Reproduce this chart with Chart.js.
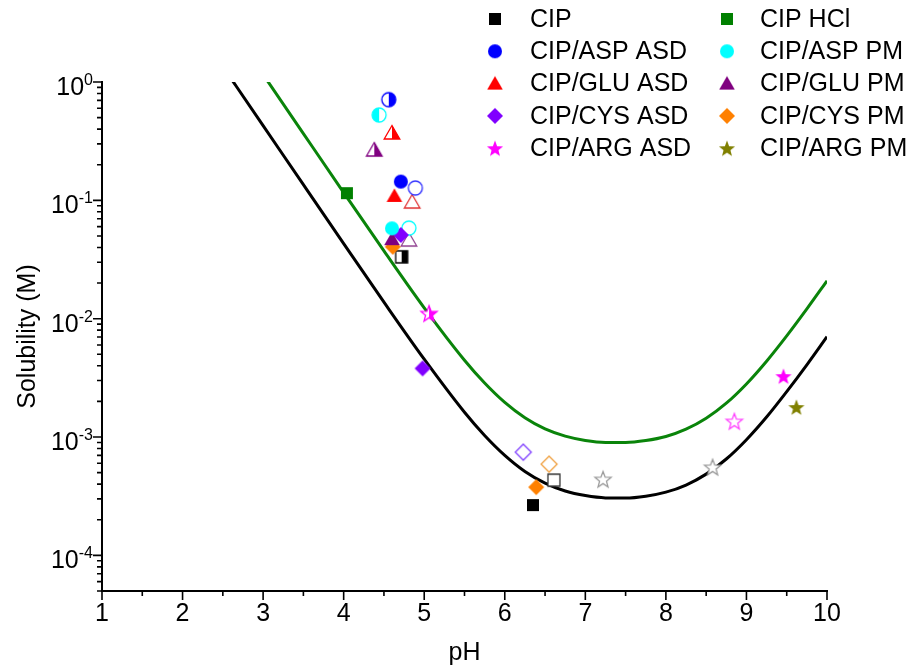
<!DOCTYPE html>
<html>
<head>
<meta charset="utf-8">
<script src="https://cdn.jsdelivr.net/npm/chart.js@4/dist/chart.umd.min.js"></script>
<style>
  html, body { margin: 0; padding: 0; background: #fff; }
  #wrap { width: 914px; height: 668px; }
</style>
</head>
<body>
<div id="wrap"><canvas id="c" width="914" height="668"></canvas></div>
<script>
// ---- model solubility curves (free base and HCl salt) ----
const curvePH     = [2.5, 3, 3.5, 4, 4.5, 5, 5.5, 5.75, 6, 6.25, 6.5, 6.75, 7, 7.25, 7.5, 7.75, 8, 8.25, 8.5, 8.75, 9, 9.25, 9.5, 9.75, 10];
const cipCurve    = [1.35, 0.428, 0.1356, 0.0431, 0.0138, 0.00455, 0.00162, 1.031e-3, 7.0e-4, 5.12e-4, 4.08e-4, 3.50e-4, 3.2e-4, 3.06e-4, 3.05e-4, 3.16e-4, 3.42e-4, 3.93e-4, 4.86e-4, 6.52e-4, 9.5e-4, 1.476e-3, 2.42e-3, 4.08e-3, 7.05e-3];
const cipHclCurve = [3.66, 1.157, 0.3665, 0.1164, 0.0374, 0.01236, 0.00446, 2.858e-3, 0.00196, 1.454e-3, 0.00117, 1.017e-3, 9.36e-4, 9.01e-4, 9.0e-4, 9.34e-4, 1.01e-3, 1.164e-3, 1.44e-3, 1.932e-3, 2.81e-3, 4.375e-3, 7.16e-3, 0.0121, 0.0209];

// ---- axis ticks ----
const xTicks   = [1, 2, 3, 4, 5, 6, 7, 8, 9, 10];
const yDecades = [1, 0.1, 0.01, 0.001, 0.0001];
const yExpText = ['0', '-1', '-2', '-3', '-4'];

// ---- measured solubilities (filled markers) ----
const cipPH     = [6.35],        cipSol     = [2.66e-4];
const cipHclPH  = [4.04],        cipHclSol  = [0.115];
const aspAsdPH  = [4.71],        aspAsdSol  = [0.144];
const aspPmPH   = [4.60],        aspPmSol   = [0.058];
const gluAsdPH  = [4.63],        gluAsdSol  = [0.109];
const gluPmPH   = [4.60],        gluPmSol   = [0.047];
const cysAsdPH  = [4.98, 4.71],  cysAsdSol  = [3.8e-3, 0.051];
const cysPmPH   = [6.39, 4.61],  cysPmSol   = [3.77e-4, 0.0405];
const argAsdPH  = [9.46],        argAsdSol  = [3.27e-3];
const argPmPH   = [9.62],        argPmSol   = [1.79e-3];

// ---- open markers ----
const cipOpenPH    = [6.61],       cipOpenSol    = [4.32e-4];
const aspAsdOpenPH = [4.89],       aspAsdOpenSol = [0.127];
const aspPmOpenPH  = [4.81],       aspPmOpenSol  = [0.0583];
const gluAsdOpenPH = [4.85],       gluAsdOpenSol = [0.0968];
const gluPmOpenPH  = [4.81],       gluPmOpenSol  = [0.0462];
const cysAsdOpenPH = [6.23],       cysAsdOpenSol = [7.45e-4];
const cysPmOpenPH  = [6.55],       cysPmOpenSol  = [5.9e-4];
const argAsdOpenPH = [8.85],       argAsdOpenSol = [1.36e-3];
const argGrayPH    = [7.22, 8.58], argGraySol    = [4.4e-4, 5.57e-4];

// ---- half-filled markers ----
const cipHalfPH    = [4.72], cipHalfSol    = [0.0333];
const aspAsdHalfPH = [4.56], aspAsdHalfSol = [0.709];
const aspPmHalfPH  = [4.44], aspPmHalfSol  = [0.526];
const gluAsdHalfPH = [4.60], gluAsdHalfSol = [0.371];
const gluPmHalfPH  = [4.38], gluPmHalfSol  = [0.266];
const argAsdHalfPH = [5.06], argAsdHalfSol = [0.0111];

const FONT = '"Liberation Sans", Arial, Helvetica, sans-serif';

const pts = (xs, ys) => xs.map((x, i) => ({ x, y: ys[i] }));

// Draw a marker glyph onto a small canvas used as a pointStyle
function marker(shape, color, fill) {
  const S = 24, c = S / 2;
  const cv = document.createElement('canvas');
  cv.width = S; cv.height = S;
  const g = cv.getContext('2d');
  g.translate(c, c);
  const path = () => {
    g.beginPath();
    if (shape === 'square') g.rect(-6, -6, 12, 12);
    else if (shape === 'circle') g.arc(0, 0, 7, 0, Math.PI * 2);
    else if (shape === 'triangle') { g.moveTo(0, -7.5); g.lineTo(7.8, 6); g.lineTo(-7.8, 6); }
    else if (shape === 'diamond') { g.moveTo(0, -8); g.lineTo(8, 0); g.lineTo(0, 8); g.lineTo(-8, 0); }
    else if (shape === 'star') {
      for (let k = 0; k < 10; k++) {
        const r = k % 2 ? 3.6 : 8.5;
        const a = -Math.PI / 2 + k * Math.PI / 5;
        const px = r * Math.cos(a), py = r * Math.sin(a) + 0.8;
        k ? g.lineTo(px, py) : g.moveTo(px, py);
      }
    }
    g.closePath();
  };
  if (fill === 'full') {
    path(); g.fillStyle = color; g.fill();
  } else {
    path(); g.fillStyle = '#fff'; g.fill();
    if (fill === 'right' || fill === 'left') {
      g.save();
      g.beginPath();
      if (fill === 'right') g.rect(0, -c, c, S); else g.rect(-c, -c, c, S);
      g.clip();
      path(); g.fillStyle = color; g.fill();
      g.restore();
    }
    path(); g.strokeStyle = color; g.lineWidth = 1.3; g.stroke();
  }
  return cv;
}

function series(label, xs, ys, shape, color, fill, inLegend) {
  return {
    label,
    inLegend,
    data: pts(xs, ys),
    pointStyle: marker(shape, color, fill),
    pointRadius: 8,
    pointHoverRadius: 8,
    showLine: false,
    order: 0
  };
}

const datasets = [
  // legend entries, in legend order (left column, right column)
  series('CIP',          cipPH,    cipSol,    'square',   '#000000', 'full', true),
  series('CIP HCl',      cipHclPH, cipHclSol, 'square',   '#008000', 'full', true),
  series('CIP/ASP ASD',  aspAsdPH, aspAsdSol, 'circle',   '#0000ff', 'full', true),
  series('CIP/ASP PM',   aspPmPH,  aspPmSol,  'circle',   '#00ffff', 'full', true),
  series('CIP/GLU ASD',  gluAsdPH, gluAsdSol, 'triangle', '#ff0000', 'full', true),
  series('CIP/GLU PM',   gluPmPH,  gluPmSol,  'triangle', '#800080', 'full', true),
  series('CIP/CYS ASD',  cysAsdPH, cysAsdSol, 'diamond',  '#8000ff', 'full', true),
  series('CIP/CYS PM',   cysPmPH,  cysPmSol,  'diamond',  '#ff8000', 'full', true),
  series('CIP/ARG ASD',  argAsdPH, argAsdSol, 'star',     '#ff00ff', 'full', true),
  series('CIP/ARG PM',   argPmPH,  argPmSol,  'star',     '#808000', 'full', true),

  // open markers
  series('', cipOpenPH,    cipOpenSol,    'square',   '#333333', 'open', false),
  series('', aspAsdOpenPH, aspAsdOpenSol, 'circle',   '#3030ff', 'open', false),
  series('', aspPmOpenPH,  aspPmOpenSol,  'circle',   '#00ffff', 'open', false),
  series('', gluAsdOpenPH, gluAsdOpenSol, 'triangle', '#e03030', 'open', false),
  series('', gluPmOpenPH,  gluPmOpenSol,  'triangle', '#904090', 'open', false),
  series('', cysAsdOpenPH, cysAsdOpenSol, 'diamond',  '#8040ff', 'open', false),
  series('', cysPmOpenPH,  cysPmOpenSol,  'diamond',  '#f0a040', 'open', false),
  series('', argAsdOpenPH, argAsdOpenSol, 'star',     '#ff40ff', 'open', false),
  series('', argGrayPH,    argGraySol,    'star',     '#9a9a9a', 'open', false),

  // half-filled markers
  series('', cipHalfPH,    cipHalfSol,    'square',   '#000000', 'right', false),
  series('', aspAsdHalfPH, aspAsdHalfSol, 'circle',   '#0000ff', 'right', false),
  series('', aspPmHalfPH,  aspPmHalfSol,  'circle',   '#00ffff', 'left',  false),
  series('', gluAsdHalfPH, gluAsdHalfSol, 'triangle', '#ff0000', 'right', false),
  series('', gluPmHalfPH,  gluPmHalfSol,  'triangle', '#800080', 'right', false),
  series('', argAsdHalfPH, argAsdHalfSol, 'star',     '#ff00ff', 'right', false),

  // solubility curves
  {
    label: '', inLegend: false,
    data: pts(curvePH, cipCurve),
    showLine: true, borderColor: '#000000', borderWidth: 3,
    pointRadius: 0, cubicInterpolationMode: 'monotone', order: 10
  },
  {
    label: '', inLegend: false,
    data: pts(curvePH, cipHclCurve),
    showLine: true, borderColor: '#0a840a', borderWidth: 3,
    pointRadius: 0, cubicInterpolationMode: 'monotone', order: 10
  }
];

// Tick marks, superscript y labels and the two-column legend
const decor = {
  id: 'decor',
  afterDraw(chart) {
    const { ctx, chartArea: a } = chart;
    const xs = chart.scales.x, ys = chart.scales.y;
    ctx.save();
    ctx.strokeStyle = '#000';
    ctx.lineWidth = 1.6;
    ctx.beginPath();
    for (let v = 1; v <= 10.001; v += 0.5) {
      const px = xs.getPixelForValue(v);
      const len = Math.abs(v - Math.round(v)) < 1e-6 ? 9 : 5;
      ctx.moveTo(px, a.bottom);
      ctx.lineTo(px, a.bottom + len);
    }
    for (let e = -5; e <= 0; e++) {
      for (let m = 1; m <= 9; m++) {
        const v = m * Math.pow(10, e);
        if (v < ys.min * 0.999 || v > ys.max * 1.001) continue;
        const py = ys.getPixelForValue(v);
        const len = m === 1 ? 9 : 5;
        ctx.moveTo(a.left, py);
        ctx.lineTo(a.left - len, py);
      }
    }
    ctx.stroke();

    // y tick labels: 10 with superscript exponent
    ctx.fillStyle = '#000';
    ctx.textBaseline = 'alphabetic';
    ctx.textAlign = 'left';
    const right = a.left - 9;
    yDecades.forEach((v, i) => {
      const py = ys.getPixelForValue(v);
      ctx.font = `16px ${FONT}`;
      const sw = ctx.measureText(yExpText[i]).width;
      ctx.font = `25px ${FONT}`;
      const bw = ctx.measureText('10').width;
      ctx.fillText('10', right - sw - bw, py + 13);
      ctx.font = `16px ${FONT}`;
      ctx.fillText(yExpText[i], right - sw, py + 3);
    });

    // legend
    const colMark = [495, 727], colText = [530, 760];
    ctx.font = `25px ${FONT}`;
    ctx.textBaseline = 'middle';
    let n = 0;
    chart.data.datasets.forEach(ds => {
      if (!ds.inLegend) return;
      const col = n % 2, row = Math.floor(n / 2);
      const cy = 19 + row * 32.3;
      const img = ds.pointStyle;
      ctx.drawImage(img, colMark[col] - img.width / 2, cy - img.height / 2);
      ctx.fillText(ds.label, colText[col], cy + 1);
      n++;
    });
    ctx.restore();
  }
};

new Chart(document.getElementById('c'), {
  type: 'scatter',
  data: { datasets },
  options: {
    responsive: false,
    animation: false,
    devicePixelRatio: 1,
    layout: { padding: { top: 82, right: 87, bottom: 0, left: 0 } },
    plugins: { legend: { display: false }, tooltip: { enabled: false } },
    scales: {
      x: {
        type: 'linear', position: 'bottom', min: 1, max: 10,
        afterFit(s) { s.height = 77; },
        afterBuildTicks(s) { s.ticks = xTicks.map(v => ({ value: v })); },
        grid: { display: true, drawOnChartArea: false, drawTicks: false },
        border: { display: true, color: '#000', width: 2 },
        ticks: { color: '#000', font: { family: FONT, size: 25 }, padding: 8, maxRotation: 0, autoSkip: false },
        title: { display: true, text: 'pH', color: '#000', font: { family: FONT, size: 25 }, padding: { top: 0, bottom: 0 } }
      },
      y: {
        type: 'logarithmic', position: 'left', min: 5e-5, max: 1,
        afterFit(s) { s.width = 102; },
        grid: { display: true, drawOnChartArea: false, drawTicks: false },
        border: { display: true, color: '#000', width: 2 },
        ticks: { display: false },
        title: { display: true, text: 'Solubility (M)', color: '#000', font: { family: FONT, size: 25 }, padding: { top: 13, bottom: 0 } }
      }
    }
  },
  plugins: [decor]
});
</script>
</body>
</html>
